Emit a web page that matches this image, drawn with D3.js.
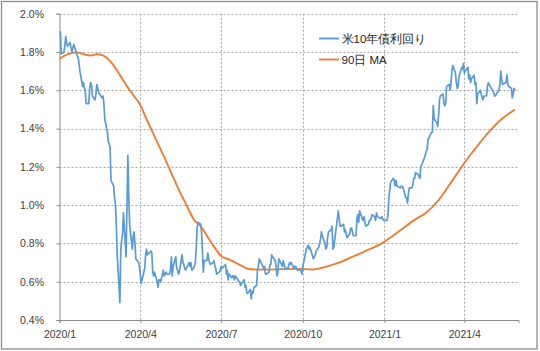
<!DOCTYPE html>
<html><head><meta charset="utf-8">
<script src="https://cdn.jsdelivr.net/npm/d3@7"></script>
<style>
html,body{margin:0;padding:0;background:#fff;}
svg{display:block;}
text{font-family:"Liberation Sans",Arial,sans-serif;}
</style></head>
<body>
<svg id="chart" width="540" height="351"></svg>
<script>
// ---------- data ----------
const seriesNames = ["米10年債利回り", "90日 MA"];
const xTickDates = ["2020-01-01","2020-04-01","2020-07-01","2020-10-01","2021-01-01","2021-04-01"];
const xTickLabels = ["2020/1","2020/4","2020/7","2020/10","2021/1","2021/4"];
const yTicks = [0.4,0.6,0.8,1.0,1.2,1.4,1.6,1.8,2.0];

const yieldMonths = ["2020-01","2020-02","2020-03","2020-04","2020-05","2020-06","2020-07","2020-08","2020-09","2020-10","2020-11","2020-12","2021-01","2021-02","2021-03","2021-04","2021-05"];
const yieldDays = [
 [2,3,6,7,8,9,10,13,14,15,16,17,21,22,23,24,27,28,29,30,31],
 [3,4,5,6,7,10,11,12,13,14,18,19,20,21,24,25,26,27,28],
 [2,3,4,5,6,9,10,11,12,13,16,17,18,19,20,23,24,25,26,27,30,31],
 [1,2,3,6,7,8,9,13,14,15,16,17,20,21,22,23,24,27,28,29,30],
 [1,4,5,6,7,8,11,12,13,14,15,18,19,20,21,22,26,27,28,29],
 [1,2,3,4,5,8,9,10,11,12,15,16,17,18,19,22,23,24,25,26,29,30],
 [1,2,6,7,8,9,10,13,14,15,16,17,20,21,22,23,24,27,28,29,30,31],
 [3,4,5,6,7,10,11,12,13,14,17,18,19,20,21,24,25,26,27,28,31],
 [1,2,3,4,8,9,10,11,14,15,16,17,18,21,22,23,24,25,28,29,30],
 [1,2,5,6,7,8,9,13,14,15,16,19,20,21,22,23,26,27,28,29,30],
 [2,3,4,5,6,9,10,12,13,16,17,18,19,20,23,24,25,27,30],
 [1,2,3,4,7,8,9,10,11,14,15,16,17,18,21,22,23,24,28,29,30,31],
 [4,5,6,7,8,11,12,13,14,15,19,20,21,22,25,26,27,28,29],
 [1,2,3,4,5,8,9,10,11,12,16,17,18,19,22,23,24,25,26],
 [1,2,3,4,5,8,9,10,11,12,15,16,17,18,19,22,23,24,25,26,29,30,31],
 [1,2,5,6,7,8,9,12,13,14,15,16,19,20,21,22,23,26,27,28,29,30],
 [3,4,5,6,7,10,11,12,13,14,17,18,19,20,21,24,25,26,27,28]
];
const yieldValues = [
 [1.91,1.79,1.80,1.83,1.88,1.85,1.83,1.85,1.82,1.80,1.82,1.84,1.78,1.77,1.74,1.70,1.62,1.64,1.61,1.60,1.53],
 [1.53,1.61,1.64,1.63,1.57,1.55,1.58,1.63,1.61,1.59,1.56,1.57,1.53,1.45,1.38,1.33,1.32,1.30,1.13],
 [1.10,1.04,1.00,0.90,0.74,0.49,0.76,0.82,0.85,0.96,0.73,1.00,1.26,1.05,0.90,0.77,0.84,0.86,0.80,0.72,0.70,0.68],
 [0.64,0.59,0.61,0.67,0.74,0.77,0.74,0.76,0.75,0.65,0.63,0.65,0.60,0.57,0.61,0.61,0.60,0.66,0.63,0.64,0.65],
 [0.64,0.64,0.66,0.73,0.63,0.68,0.73,0.67,0.66,0.64,0.65,0.74,0.70,0.69,0.67,0.66,0.70,0.68,0.70,0.66],
 [0.68,0.70,0.78,0.88,0.91,0.90,0.86,0.76,0.65,0.71,0.71,0.75,0.72,0.70,0.69,0.70,0.71,0.68,0.67,0.64,0.65,0.66],
 [0.68,0.67,0.69,0.64,0.66,0.61,0.64,0.62,0.63,0.63,0.61,0.63,0.61,0.60,0.60,0.58,0.59,0.61,0.57,0.58,0.54,0.54],
 [0.56,0.51,0.55,0.54,0.57,0.58,0.66,0.68,0.72,0.71,0.68,0.67,0.68,0.64,0.64,0.65,0.69,0.69,0.74,0.73,0.71],
 [0.68,0.63,0.65,0.72,0.68,0.71,0.69,0.67,0.67,0.68,0.70,0.69,0.70,0.67,0.68,0.68,0.67,0.66,0.66,0.66,0.64],
 [0.68,0.70,0.77,0.78,0.79,0.77,0.78,0.72,0.73,0.74,0.76,0.78,0.80,0.82,0.86,0.84,0.80,0.77,0.78,0.83,0.86],
 [0.87,0.89,0.77,0.78,0.82,0.93,0.97,0.89,0.89,0.90,0.86,0.87,0.85,0.83,0.85,0.88,0.88,0.84,0.84],
 [0.93,0.95,0.91,0.97,0.93,0.92,0.94,0.91,0.89,0.90,0.92,0.92,0.93,0.95,0.94,0.92,0.96,0.94,0.93,0.94,0.93,0.92],
 [0.92,0.95,1.04,1.08,1.12,1.14,1.13,1.10,1.13,1.10,1.09,1.10,1.10,1.09,1.04,1.04,1.01,1.06,1.09],
 [1.09,1.11,1.14,1.14,1.17,1.16,1.15,1.14,1.20,1.21,1.26,1.28,1.29,1.34,1.37,1.38,1.38,1.52,1.45],
 [1.43,1.41,1.47,1.55,1.57,1.58,1.53,1.52,1.53,1.62,1.63,1.60,1.64,1.70,1.73,1.69,1.64,1.61,1.62,1.67,1.72,1.71,1.74],
 [1.69,1.70,1.72,1.66,1.68,1.64,1.66,1.68,1.63,1.64,1.53,1.58,1.60,1.58,1.56,1.55,1.57,1.57,1.62,1.64,1.63,1.62],
 [1.60,1.59,1.57,1.57,1.58,1.60,1.63,1.70,1.66,1.63,1.64,1.64,1.68,1.63,1.62,1.61,1.56,1.58,1.61,1.60]
];

const maDates = ["2020-01-01","2020-01-08","2020-01-14","2020-01-20","2020-01-28","2020-02-05","2020-02-12","2020-02-18","2020-02-23","2020-02-29","2020-03-09","2020-03-16","2020-03-24","2020-04-01","2020-04-08","2020-04-19","2020-05-01","2020-05-12","2020-05-23","2020-06-01","2020-06-07","2020-06-11","2020-06-18","2020-06-22","2020-07-01","2020-07-11","2020-07-22","2020-08-03","2020-08-22","2020-09-08","2020-09-27","2020-10-12","2020-10-23","2020-11-03","2020-11-14","2020-11-25","2020-12-07","2020-12-18","2020-12-29","2021-01-09","2021-01-17","2021-02-04","2021-02-17","2021-03-04","2021-03-15","2021-03-26","2021-04-07","2021-04-18","2021-04-29","2021-05-10","2021-05-21","2021-05-28"];
const maValues = [1.765,1.784,1.793,1.798,1.788,1.782,1.788,1.784,1.770,1.742,1.680,1.628,1.575,1.523,1.450,1.340,1.220,1.105,1.000,0.920,0.895,0.870,0.818,0.790,0.735,0.714,0.688,0.665,0.663,0.666,0.667,0.664,0.673,0.688,0.705,0.728,0.752,0.775,0.800,0.835,0.862,0.923,0.960,1.032,1.105,1.180,1.258,1.323,1.384,1.437,1.477,1.500];

// ---------- build ----------
const parse = d3.timeParse("%Y-%m-%d");
const yieldData = [];
yieldMonths.forEach((m, i) => {
  yieldDays[i].forEach((d, j) => {
    yieldData.push({date: parse(m + "-" + String(d).padStart(2, "0")), v: yieldValues[i][j]});
  });
});
const maData = maDates.map((d, i) => ({date: parse(d), v: maValues[i]}));

const svg = d3.select("#chart");
const L = 59.5, R = 518.5, T = 13.7, B = 320;
const x = d3.scaleTime().domain([parse("2020-01-01"), parse("2021-06-01")]).range([L, R]);
const y = d3.scaleLinear().domain([0.4, 2.0]).range([B, T]);

// outer frame
svg.append("rect").attr("x", 1.5).attr("y", 1.5).attr("width", 535.5).attr("height", 347.5)
  .attr("fill", "#fff").attr("stroke", "#8e8e8e").attr("stroke-width", 1.3);

// horizontal gridlines
svg.append("g").selectAll("line").data(yTicks.filter(v => v > 0.4)).join("line")
  .attr("x1", L).attr("x2", R)
  .attr("y1", d => Math.round(y(d)) + 0.5).attr("y2", d => Math.round(y(d)) + 0.5)
  .attr("stroke", "#a6a6a6").attr("stroke-width", 1).attr("stroke-dasharray", "2,2");

// vertical gridlines
const tickDates = xTickDates.map(parse);
svg.append("g").selectAll("line").data(tickDates.slice(1)).join("line")
  .attr("x1", d => Math.round(x(d)) + 0.5).attr("x2", d => Math.round(x(d)) + 0.5)
  .attr("y1", T).attr("y2", B)
  .attr("stroke", "#a6a6a6").attr("stroke-width", 1).attr("stroke-dasharray", "2,2");

// axes
const yAxis = d3.axisLeft(y).tickValues(yTicks).tickFormat(d => d3.format(".1f")(d) + "%")
  .tickSize(3).tickPadding(12.5);
const gy = svg.append("g").attr("transform", `translate(${L},0)`).call(yAxis);
const xAxis = d3.axisBottom(x).tickValues(tickDates).tickFormat((d, i) => xTickLabels[i])
  .tickSize(3).tickPadding(8);
const gx = svg.append("g").attr("transform", `translate(0,${B})`).call(xAxis);
[gx, gy].forEach(g => {
  g.select(".domain").attr("stroke", "#8c8c8c");
  g.selectAll(".tick line").attr("stroke", "#8c8c8c");
  g.selectAll("text").attr("fill", "#404040").attr("font-size", "10.5px")
    .attr("font-family", "'Liberation Sans', Arial, sans-serif");
});

// lines
const line = d3.line().x(d => x(d.date)).y(d => y(d.v));
const maLine = d3.line().x(d => x(d.date)).y(d => y(d.v)).curve(d3.curveMonotoneX);
const colors = ["#5b9bd5", "#ed7d31"];

svg.append("path").datum(maData).attr("d", maLine)
  .attr("fill", "none").attr("stroke", colors[1]).attr("stroke-width", 1.9)
  .attr("stroke-linejoin", "round");
svg.append("path").datum(yieldData).attr("d", line)
  .attr("fill", "none").attr("stroke", colors[0]).attr("stroke-width", 1.7)
  .attr("stroke-linejoin", "round");

// legend
const legendY = [38.5, 59.5];
const lg = svg.append("g");
seriesNames.forEach((name, i) => {
  lg.append("line").attr("x1", 319).attr("x2", 339).attr("y1", legendY[i]).attr("y2", legendY[i])
    .attr("stroke", colors[i]).attr("stroke-width", 1.9);
  lg.append("text").attr("x", 341.5).attr("y", legendY[i]).attr("dy", "0.36em")
    .attr("font-size", "11.5px").attr("fill", "#262626")
    .attr("font-family", "'Noto Sans CJK JP', 'Liberation Sans', sans-serif")
    .text(name);
});
</script>
</body></html>
